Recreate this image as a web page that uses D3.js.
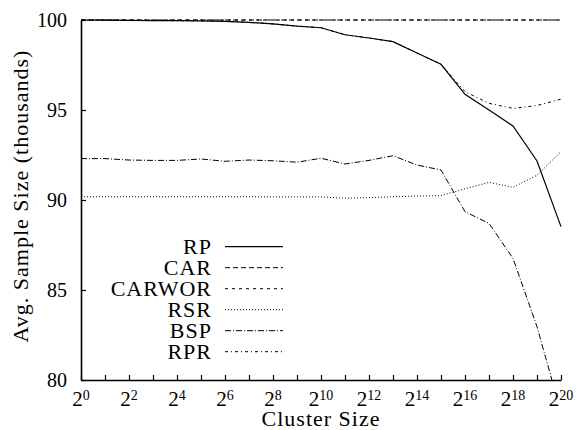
<!DOCTYPE html>
<html>
<head>
<meta charset="utf-8">
<script src="https://cdn.jsdelivr.net/npm/d3@7"></script>
<style>
  body { margin: 0; background: #fff; }
</style>
</head>
<body>
<div id="chart"></div>
<script>
// cluster size exponents (2^e)
const exps = [0,1,2,3,4,5,6,7,8,9,10,11,12,13,14,15,16,17,18,19,20];
const xTickLabels = [0,2,4,6,8,10,12,14,16,18,20];
const yTicks = [80, 85, 90, 95, 100];

const rp     = [100, 99.99, 99.98, 99.97, 99.96, 99.95, 99.92, 99.87, 99.78, 99.66, 99.57, 99.18, 99.0, 98.8, 98.17, 97.54, 95.87, 95.0, 94.11, 92.17, 88.52];
const car    = [100,100,100,100,100,100,100,100,100,100,100,100,100,100,100,100,100,100,100,100,100];
const carwor = [100,100,100,100,100,100,100,100,100,100,100,100,100,100,100,100,100,100,100,100,100];
const rsr    = [90.18, 90.18, 90.18, 90.18, 90.18, 90.18, 90.18, 90.18, 90.17, 90.17, 90.17, 90.1, 90.13, 90.18, 90.22, 90.24, 90.62, 90.98, 90.7, 91.38, 92.68];
const bsp    = [92.3, 92.3, 92.22, 92.2, 92.2, 92.28, 92.15, 92.22, 92.18, 92.1, 92.32, 92.0, 92.2, 92.46, 91.94, 91.67, 89.35, 88.7, 86.76, 82.96, 78.2];
const rpr    = [100, 99.99, 99.98, 99.97, 99.96, 99.95, 99.92, 99.87, 99.78, 99.66, 99.57, 99.18, 99.0, 98.8, 98.17, 97.54, 96.02, 95.37, 95.09, 95.25, 95.6];

const seriesNames = ["RP", "CAR", "CARWOR", "RSR", "BSP", "RPR"];
const seriesVals = [rp, car, carwor, rsr, bsp, rpr];
const dashes = ["none", "5,3", "3,4", "1,2", "6,2,1,2", "3,3,1,3"];

const svgWidth = 577, svgHeight = 430;
const margin = {top: 20, right: 16, bottom: 50, left: 81};
const width = svgWidth - margin.left - margin.right;
const height = svgHeight - margin.top - margin.bottom;
const serif = '"Liberation Serif"';

const svg = d3.select("#chart").append("svg")
  .attr("width", svgWidth)
  .attr("height", svgHeight);

const chartGroup = svg.append("g")
  .attr("transform", `translate(${margin.left}, ${margin.top})`);

svg.append("defs").append("clipPath").attr("id", "plotclip")
  .append("rect").attr("x", 0).attr("y", -3).attr("width", width + 2).attr("height", height + 3);

// scales
const xScale = d3.scaleLog().base(2).domain([1, 2 ** 20]).range([0, width]);
const yScale = d3.scaleLinear().domain([80, 100]).range([height, 0]);

// lines
const line = d3.line()
  .x(d => xScale(d[0]))
  .y(d => yScale(d[1]));

const lines = chartGroup.append("g").attr("clip-path", "url(#plotclip)");
seriesVals.forEach((vals, i) => {
  lines.append("path")
    .datum(exps.map((e, j) => [2 ** e, vals[j]]))
    .attr("fill", "none")
    .attr("stroke", "#000")
    .attr("stroke-width", i === 0 ? 1.2 : 1)
    .attr("stroke-dasharray", dashes[i])
    .attr("d", line);
});

// axes
const xAxis = d3.axisBottom(xScale)
  .tickValues(exps.map(e => 2 ** e))
  .tickSizeInner(-5)
  .tickSizeOuter(0)
  .tickFormat("");

chartGroup.append("g")
  .attr("transform", `translate(0, ${height})`)
  .call(xAxis)
  .call(g => g.select(".domain").attr("stroke-width", 1.6))
  .call(g => g.selectAll(".tick line").attr("stroke-width", 1.2));

const xLabels = chartGroup.append("g").attr("transform", `translate(0, ${height})`);
xTickLabels.forEach(e => {
  const t = xLabels.append("text")
    .attr("x", xScale(2 ** e))
    .attr("y", 26)
    .attr("text-anchor", "middle")
    .style("font-family", serif)
    .style("font-size", "21px");
  t.append("tspan").text("2");
  t.append("tspan").attr("dy", "-0.45em").style("font-size", "14px").text(e);
});

const yAxis = d3.axisLeft(yScale)
  .tickValues(yTicks)
  .tickSizeInner(-5)
  .tickSizeOuter(0)
  .tickPadding(14);

chartGroup.append("g")
  .call(yAxis)
  .call(g => g.select(".domain").attr("stroke-width", 1.6))
  .call(g => g.selectAll(".tick line").attr("stroke-width", 1.2))
  .call(g => g.selectAll(".tick text")
    .style("font-family", serif)
    .style("font-size", "20px"));

// legend
const legend = chartGroup.append("g");
seriesNames.forEach((name, i) => {
  const ly = 226.7 + i * 21;
  legend.append("text")
    .attr("x", 131)
    .attr("y", ly + 7.5)
    .attr("text-anchor", "end")
    .style("font-family", serif)
    .style("font-size", "22px")
    .style("letter-spacing", "1px")
    .text(name);
  legend.append("line")
    .attr("x1", 144).attr("x2", 202)
    .attr("y1", ly).attr("y2", ly)
    .attr("stroke", "#000")
    .attr("stroke-width", i === 0 ? 1.2 : 1)
    .attr("stroke-dasharray", dashes[i]);
});

// axis titles
chartGroup.append("text")
  .attr("x", width / 2)
  .attr("y", height + 46.3)
  .attr("text-anchor", "middle")
  .style("font-family", serif)
  .style("font-size", "22px")
  .style("letter-spacing", "1px")
  .text("Cluster Size");

chartGroup.append("text")
  .attr("transform", "rotate(-90)")
  .attr("x", -height / 2 + 4)
  .attr("y", -53)
  .attr("text-anchor", "middle")
  .style("font-family", serif)
  .style("font-size", "22px")
  .style("letter-spacing", "1px")
  .text("Avg. Sample Size (thousands)");
</script>
</body>
</html>
